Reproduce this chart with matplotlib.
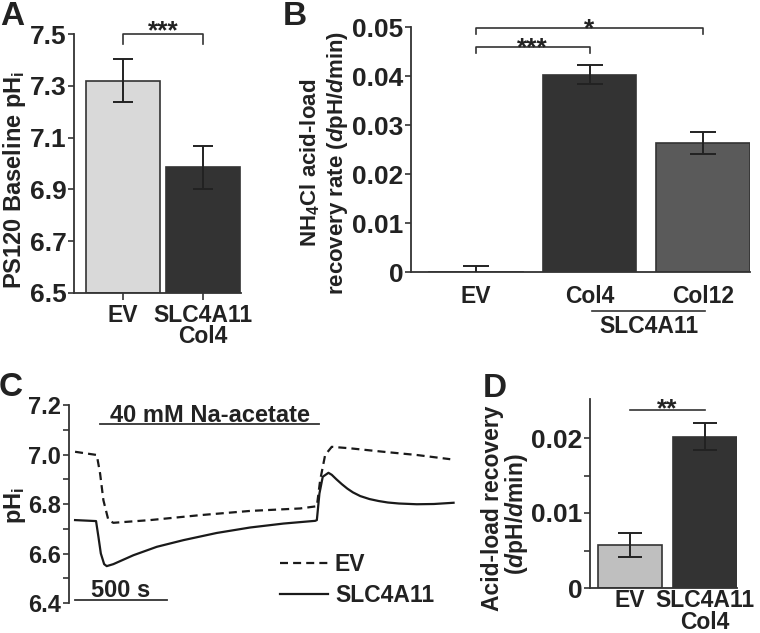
import matplotlib
matplotlib.use("Agg")
import matplotlib.pyplot as plt
import matplotlib.transforms as mtrans
import numpy as np

plt.rcParams['font.family'] = ['Liberation Sans', 'DejaVu Sans']
plt.rcParams['font.weight'] = 'bold'
plt.rcParams['mathtext.fontset'] = 'custom'
plt.rcParams['mathtext.rm'] = 'Liberation Sans:bold'
plt.rcParams['mathtext.bf'] = 'Liberation Sans:bold'
plt.rcParams['mathtext.it'] = 'Liberation Sans:italic:bold'
plt.rcParams['mathtext.default'] = 'rm'

TXT = '#222222'
EDGE = '#333333'

# ---------------- data ----------------
a_labels = ['EV', 'SLC4A11\nCol4']
a_values = [7.32, 6.985]
a_errors = [0.084, 0.082]
a_colors = ['#d9d9d9', '#333333']

b_labels = ['EV', 'Col4', 'Col12']
b_values = [-0.0003, 0.0403, 0.0263]
b_errors = [0.0015, 0.0019, 0.0023]
b_colors = ['#d9d9d9', '#333333', '#5a5a5a']

d_labels = ['EV', 'SLC4A11\nCol4']
d_values = [0.0057, 0.0202]
d_errors = [0.0016, 0.0018]
d_colors = ['#bfbfbf', '#333333']

ev_t = [0, 118, 136, 154, 181, 208, 408, 680, 951, 1223, 1314, 1332, 1359, 1395, 1495, 1676, 1857, 2039]
ev_ph = [7.011, 6.998, 6.923, 6.815, 6.735, 6.724, 6.735, 6.755, 6.772, 6.782, 6.791, 6.896,
         6.998, 7.031, 7.025, 7.011, 6.998, 6.981]
slc_t = [0, 114, 127, 140, 158, 172, 208, 317, 444, 589, 770, 951, 1133, 1305, 1314, 1328,
         1346, 1377, 1395, 1420, 1450, 1480, 1510, 1550, 1600, 1650, 1700, 1760, 1857, 1950, 2057]
slc_ph = [6.735, 6.731, 6.667, 6.600, 6.557, 6.549, 6.557, 6.593, 6.627, 6.654, 6.683, 6.705,
          6.721, 6.732, 6.735, 6.842, 6.910, 6.926, 6.918, 6.900, 6.880, 6.862, 6.847, 6.832,
          6.820, 6.812, 6.806, 6.802, 6.799, 6.800, 6.805]
acetate_window = [136, 1326]
scale_bar = [0, 500]

W, H = 760, 633
fig = plt.figure(figsize=(W / 100, H / 100), dpi=100)


def px_axes(l, t, r, b):
    return fig.add_axes([l / W, 1 - b / H, (r - l) / W, (b - t) / H])


def style(ax, ysize=19):
    for s in ['top', 'right']:
        ax.spines[s].set_visible(False)
    for s in ['left', 'bottom']:
        ax.spines[s].set_color(EDGE)
        ax.spines[s].set_linewidth(1.3)
    ax.tick_params(colors=EDGE, labelcolor=TXT, width=1.2, length=4)
    ax.tick_params(axis='y', labelsize=ysize, pad=1.5)
    ax.tick_params(axis='x', labelsize=16.5)


def panel_letter(x, y, s):
    fig.text(x / W, 1 - y / H, s, fontsize=24, fontweight='bold', color=TXT,
             ha='left', va='baseline')


ekw = dict(ecolor='#222222', elinewidth=1.4, capthick=1.4)
STAR = 19

# ---------------- Panel A ----------------
axA = px_axes(74, 34, 241, 293)
style(axA)
xa = np.arange(len(a_values))
axA.bar(xa, np.array(a_values) - 6.5, bottom=6.5, width=0.925, color=a_colors,
        edgecolor=EDGE, linewidth=1.2, zorder=2)
axA.errorbar(xa, a_values, yerr=a_errors, fmt='none', capsize=7.5, zorder=3, **ekw)
axA.set_ylim(6.5, 7.5)
axA.set_xlim(-0.6125, 1.475)
axA.set_yticks([6.5, 6.7, 6.9, 7.1, 7.3, 7.5])
axA.set_xticks(xa)
axA.set_xticklabels(a_labels, linespacing=0.9)
axA.tick_params(axis='x', length=5, pad=3)
axA.plot([0, 0, 1, 1], [7.46, 7.5, 7.5, 7.46], color=EDGE, lw=1.2, clip_on=False)
axA.text(0.5, 7.485, '***', ha='center', va='baseline', fontsize=STAR, color=TXT)
fig.text(15 / W, 1 - 180 / H, r'PS120 Baseline pH$_\mathregular{i}$', rotation=90,
         ha='center', va='center', fontsize=17, color=TXT)
panel_letter(0, 25, 'A')

# ---------------- Panel B ----------------
axB = px_axes(411, 27, 750, 272)
style(axB)
xb = np.arange(len(b_values))
axB.bar(xb, b_values, width=0.82, color=b_colors, edgecolor=EDGE, linewidth=1.2, zorder=2)
axB.errorbar(xb, b_values, yerr=b_errors, fmt='none', capsize=9.5, zorder=3, **ekw)
axB.set_ylim(0, 0.05)
axB.set_xlim(-0.573, 2.414)
axB.set_yticks([0, 0.01, 0.02, 0.03, 0.04, 0.05])
axB.set_yticklabels(['0', '0.01', '0.02', '0.03', '0.04', '0.05'])
axB.set_xticks(xb)
axB.set_xticklabels(b_labels)
axB.tick_params(axis='x', length=0, pad=9)
axB.plot([0, 0, 1, 1], [0.0447, 0.0459, 0.0459, 0.0447], color=EDGE, lw=1.2, clip_on=False)
axB.text(0.5, 0.0443, '***', ha='center', va='baseline', fontsize=STAR, color=TXT)
axB.plot([0, 0, 2, 2], [0.0486, 0.0498, 0.0498, 0.0486], color=EDGE, lw=1.2, clip_on=False)
axB.text(1.0, 0.0480, '*', ha='center', va='baseline', fontsize=STAR, color=TXT)
trB = mtrans.blended_transform_factory(axB.transData, axB.transAxes)
axB.plot([1.02, 2.02], [-0.16, -0.16], color=EDGE, lw=1.2, transform=trB, clip_on=False)
axB.text(1.52, -0.175, 'SLC4A11', transform=trB, ha='center', va='top', fontsize=16.5, color=TXT)
fig.text(310 / W, 1 - 163 / H, r'NH$_4$Cl acid-load', rotation=90,
         ha='center', va='center', fontsize=16, color=TXT)
fig.text(337 / W, 1 - 163 / H, r'recovery rate ($\mathit{d}$pH/$\mathit{d}$min)', rotation=90,
         ha='center', va='center', fontsize=16, color=TXT)
panel_letter(283, 25, 'B')

# ---------------- Panel C ----------------
axC = px_axes(69, 405, 460, 603)
style(axC, ysize=17)
axC.spines['bottom'].set_visible(False)
axC.plot(ev_t, ev_ph, color='#1a1a1a', lw=1.6, dashes=(3.6, 2.3), label='EV')
axC.plot(slc_t, slc_ph, color='#1a1a1a', lw=1.6, label='SLC4A11')
axC.set_ylim(6.4, 7.2)
axC.set_xlim(-33, 2092)
axC.set_yticks([6.4, 6.6, 6.8, 7.0, 7.2])
axC.set_yticks([6.5, 6.7, 6.9, 7.1], minor=True)
axC.tick_params(axis='y', which='minor', length=4, width=1.2, colors=EDGE)
axC.set_xticks([])
axC.plot(acetate_window, [7.123, 7.123], color=EDGE, lw=1.3)
axC.text(np.mean(acetate_window), 7.131, '40 mM Na-acetate', ha='center', va='baseline',
         fontsize=17, color=TXT)
axC.plot(scale_bar, [6.412, 6.412], color=EDGE, lw=1.3, clip_on=False)
axC.text(np.mean(scale_bar), 6.424, '500 s', ha='center', va='baseline', fontsize=17, color=TXT)
leg = axC.legend(loc='lower left', bbox_to_anchor=((280 - 69) / 391, -0.02), frameon=False,
                 fontsize=16.5, handlelength=2.1, handletextpad=0.3, labelspacing=0.35,
                 borderaxespad=0, borderpad=0)
for t in leg.get_texts():
    t.set_color(TXT)
fig.text(15 / W, 1 - 505 / H, r'pH$_\mathregular{i}$', rotation=90, ha='center', va='center',
         fontsize=17, color=TXT)
panel_letter(-1, 396, 'C')

# ---------------- Panel D ----------------
axD = px_axes(590, 399, 737, 588)
style(axD)
xd = np.arange(len(d_values))
axD.bar(xd, d_values, width=0.853, color=d_colors, edgecolor=EDGE, linewidth=1.2, zorder=2)
axD.errorbar(xd, d_values, yerr=d_errors, fmt='none', capsize=8.5, zorder=3, **ekw)
axD.set_ylim(0, 0.0252)
axD.set_xlim(-0.533, 1.43)
axD.set_yticks([0, 0.01, 0.02])
axD.set_yticklabels(['0', '0.01', '0.02'])
axD.set_yticks([0.005, 0.015], minor=True)
axD.tick_params(axis='y', which='minor', length=4, width=1.2, colors=EDGE)
axD.set_xticks(xd)
axD.set_xticklabels(d_labels, linespacing=0.9)
axD.tick_params(axis='x', length=0, pad=1)
axD.plot([0, 1], [0.0237, 0.0237], color=EDGE, lw=1.2, clip_on=False)
axD.text(0.5, 0.0229, '**', ha='center', va='baseline', fontsize=STAR, color=TXT)
fig.text(493 / W, 1 - 508 / H, 'Acid-load recovery', rotation=90, ha='center', va='center',
         fontsize=16.5, color=TXT)
fig.text(517 / W, 1 - 514 / H, r'($\mathit{d}$pH/$\mathit{d}$min)', rotation=90,
         ha='center', va='center', fontsize=16.5, color=TXT)
panel_letter(483, 397, 'D')

fig.savefig('out.png', dpi=100)
